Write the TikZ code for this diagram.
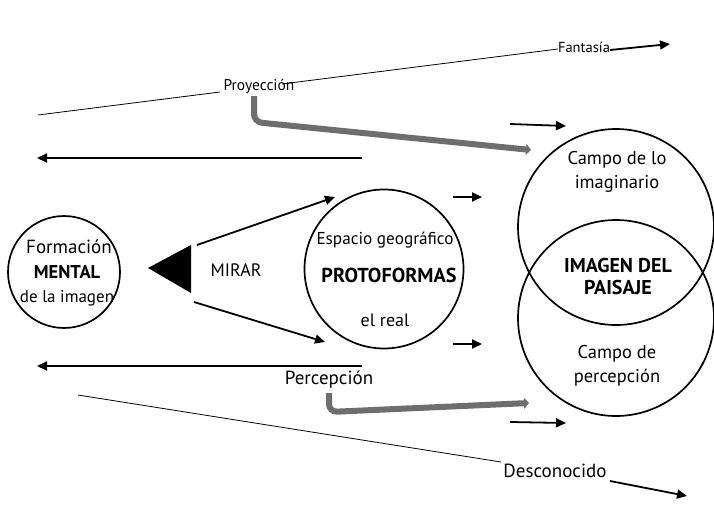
\documentclass[tikz,border=0pt]{standalone}
\usepackage{fontspec}
\setmainfont{PT Sans}
\usetikzlibrary{arrows.meta}
\definecolor{arrgray}{RGB}{108,110,112}
\tikzset{
  lbl/.style={inner sep=0pt, font=\fontsize{18}{24}\selectfont, align=center},
  bigcircle/.style={draw, line width=1.7pt, circle, inner sep=0pt},
  blackarrow/.style={line width=1.8pt, -{Triangle[length=10pt,width=9pt]}},
  thinline/.style={line width=0.8pt},
  grayarrow/.style={draw=arrgray, line width=6pt, rounded corners=8pt, -{Triangle[length=5pt,width=11pt]}},
}
\begin{document}
\begin{tikzpicture}[x=1pt,y=-1pt]
\useasboundingbox (0,0) rectangle (714,527);
\fill[white] (0,0) rectangle (714,527);

% circles
\node[bigcircle, minimum size=112pt] (mental) at (64,272) {};
\node[bigcircle, minimum size=159pt] (proto) at (384,269) {};
\node[bigcircle, minimum size=196pt] (imag) at (616,227) {};
\node[bigcircle, minimum size=196pt] (perc) at (616,318) {};

% texts in circles
\node[lbl, font=\fontsize{19}{24}\selectfont] (formacion) at (69,247) {Formación};
\node[lbl, font=\fontsize{18.5}{24}\selectfont\bfseries] (mentaltxt) at (67,272) {MENTAL};
\node[lbl, font=\fontsize{17}{24}\selectfont] (delaimagen) at (67,298) {de la imagen};
\node[lbl, font=\fontsize{17.2}{20}\selectfont] (espacio) at (385,240) {Espacio geográfico};
\node[lbl, font=\fontsize{20.2}{24}\selectfont\bfseries] (protof) at (389,275) {PROTOFORMAS};
\node[lbl] (elreal) at (385,320) {el real};
\node[lbl, font=\fontsize{18.5}{24}\selectfont] (campoimag) at (617,172) {Campo de lo\\imaginario};
\node[lbl, font=\fontsize{20}{22}\selectfont\bfseries] (imagen) at (618,276) {IMAGEN DEL\\PAISAJE};
\node[lbl, font=\fontsize{18.5}{24}\selectfont] (campoperc) at (617,366) {Campo de\\percepción};

% MIRAR triangle
\fill (148,268) -- (191,245) -- (191,293) -- cycle;
\node[lbl] (mirar) at (236,270) {MIRAR};
\coordinate (mirUp) at (197,245);
\coordinate (mirDn) at (194,302);
\coordinate (protoUp) at (335,197);
\coordinate (protoDn) at (325,342);
\draw[blackarrow] (mirUp) -- (protoUp);
\draw[blackarrow] (mirDn) -- (protoDn);

% Proyeccion line
\node[lbl, font=\fontsize{15.5}{18}\selectfont] (proy) at (259,87) {Proyección};
\node[lbl, font=\fontsize{14.5}{16}\selectfont] (fant) at (584,47) {Fantasía};
\coordinate (proyStart) at (38,115);
\coordinate (proyIn) at (220,92);
\coordinate (proyOut) at (282,84);
\coordinate (fantIn) at (558,49);
\draw[thinline] (proyStart) -- (proyIn);
\draw[thinline] (proyOut) -- (fantIn);
\coordinate (fantA) at (610,50);
\coordinate (fantB) at (670,44);
\draw[blackarrow] (fantA) -- (fantB);

% gray arrow top
\coordinate (g1a) at (254,96);
\coordinate (g1b) at (254,122);
\coordinate (g1c) at (531,150);
\draw[grayarrow] (g1a) -- (g1b) -- (g1c);

% small black arrows
\coordinate (s1a) at (510,124); \coordinate (s1b) at (566,126);
\draw[blackarrow] (s1a) -- (s1b);
\coordinate (s2a) at (453,197); \coordinate (s2b) at (482,197);
\draw[blackarrow] (s2a) -- (s2b);
\coordinate (s3a) at (453,344); \coordinate (s3b) at (482,344);
\draw[blackarrow] (s3a) -- (s3b);
\coordinate (s4a) at (510,422); \coordinate (s4b) at (566,423);
\draw[blackarrow] (s4a) -- (s4b);

% long left arrows
\coordinate (l1a) at (362,158); \coordinate (l1b) at (37,158);
\draw[blackarrow] (l1a) -- (l1b);
\coordinate (l2a) at (362,366); \coordinate (l2b) at (37,366);
\draw[blackarrow] (l2a) -- (l2b);

% Percepcion
\node[lbl, font=\fontsize{19}{24}\selectfont] (percep) at (329,380) {Percepción};
\coordinate (g2a) at (329,393);
\coordinate (g2b) at (329,412);
\coordinate (g2c) at (529,403);
\draw[grayarrow] (g2a) -- (g2b) -- (g2c);

% Desconocido
\node[lbl, font=\fontsize{19}{24}\selectfont] (desc) at (555,471) {Desconocido};
\coordinate (dStart) at (78,395);
\coordinate (dIn) at (501,462);
\draw[thinline] (dStart) -- (dIn);
\coordinate (dA) at (610,481); \coordinate (dB) at (687,496);
\draw[blackarrow] (dA) -- (dB);
\end{tikzpicture}
\end{document}
